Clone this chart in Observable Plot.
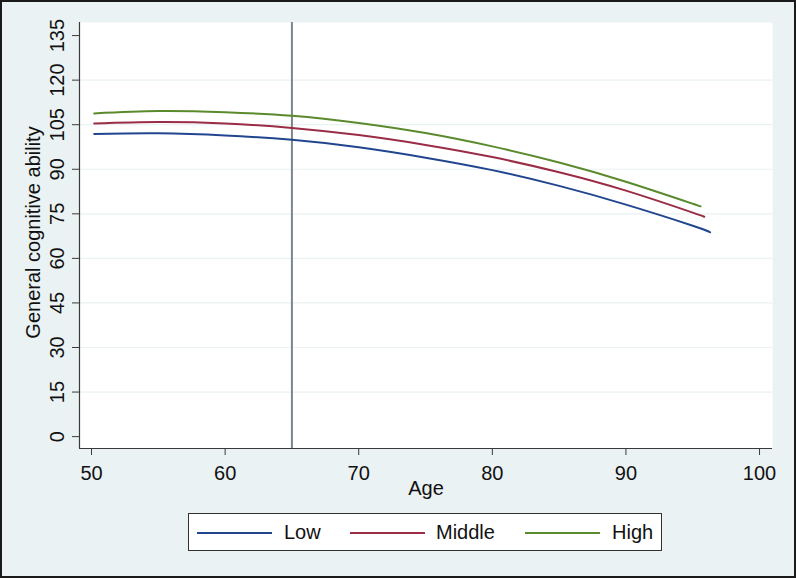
<!DOCTYPE html>
<html>
<head>
<meta charset="utf-8">
<script src="https://cdn.jsdelivr.net/npm/d3@7"></script>
<script src="https://cdn.jsdelivr.net/npm/@observablehq/plot@0.6"></script>
<style>
  html, body { margin: 0; padding: 0; background: #ffffff; }
  #wrap { position: relative; width: 796px; height: 578px; box-sizing: border-box; }
  #frame { position: absolute; left: 0; top: 0; width: 796px; height: 578px; box-sizing: border-box; border: 2px solid #1a1a1a; pointer-events: none; }
  #legend { position: absolute; left: 188px; top: 513px; width: 474px; height: 38px; box-sizing: border-box;
            background: #ffffff; border: 1px solid #333; font-family: "Liberation Sans", Arial, sans-serif; font-size: 20px; color: #111; }
  .sw { position: absolute; top: 18px; height: 2px; width: 75px; }
  .lb { position: absolute; top: 7px; line-height: 22px; }
</style>
</head>
<body>
<div id="wrap"><div id="chart"></div><div id="legend"></div><div id="frame"></div></div>
<script>
// ---- data ----
const groups = ["Low", "Middle", "High"];
const colors = ["#21468f", "#9a2c46", "#5a8a2c"];

const ageLow    = [50.2, 55, 60, 65, 70, 75, 80, 85, 90, 95, 96.3];
const valLow    = [101.9, 102.1, 101.4, 99.9, 97.4, 93.9, 89.7, 84.4, 78.1, 71.0, 68.8];

const ageMiddle = [50.2, 55, 60, 65, 70, 75, 80, 85, 90, 95, 95.8];
const valMiddle = [105.4, 105.9, 105.4, 103.9, 101.5, 98.2, 94.1, 89.0, 82.8, 75.4, 74.1];

const ageHigh   = [50.2, 55, 60, 65, 70, 75, 80, 85, 90, 95, 95.2];
const valHigh   = [108.8, 109.6, 109.2, 108.0, 105.6, 102.2, 97.7, 92.3, 85.8, 78.4, 78.1];

const xTicks = [50, 60, 70, 80, 90, 100];
const yTicks = [0, 15, 30, 45, 60, 75, 90, 105, 120, 135];
const gridTicks = [15, 30, 45, 60, 75, 90, 105, 120];
const cutoffAge = [65];

const xDomain = [49.1, 100.97];
const yDomain = [-4.0, 139.4];

const xLabel = "Age";
const yLabel = "General cognitive ability";

// ---- build table ----
const rows = [];
[[ageLow, valLow], [ageMiddle, valMiddle], [ageHigh, valHigh]].forEach(([ages, vals], gi) => {
  ages.forEach((a, i) => rows.push({group: groups[gi], age: a, value: vals[i]}));
});

const font = "'Liberation Sans', Arial, sans-serif";

const chart = Plot.plot({
  width: 796,
  height: 578,
  marginLeft: 79,
  marginRight: 24,
  marginTop: 22,
  marginBottom: 130,
  style: {background: "#eaf2f3", fontFamily: font, fontSize: "20px", color: "#111"},
  x: {domain: xDomain},
  y: {domain: yDomain},
  color: {domain: groups, range: colors},
  marks: [
    Plot.frame({fill: "white", stroke: "none"}),
    Plot.ruleY(gridTicks, {stroke: "#eaf2f3", strokeWidth: 1.2}),
    Plot.ruleX(cutoffAge, {stroke: "#7b878c", strokeWidth: 2}),
    Plot.line(rows, {x: "age", y: "value", z: "group", stroke: "group", strokeWidth: 2, curve: "natural"}),
    Plot.ruleX([xDomain[0]], {stroke: "#3a3a3a", strokeWidth: 1.2}),
    Plot.ruleY([yDomain[0]], {stroke: "#3a3a3a", strokeWidth: 1.2}),
    Plot.axisX({ticks: xTicks, tickSize: 7, tickPadding: 10, fontSize: 20, label: null, stroke: "#3a3a3a"}),
    Plot.axisY({ticks: yTicks, tickSize: 7, tickPadding: 9, tickRotate: -90, fontSize: 20, label: null, stroke: "#3a3a3a"}),
    Plot.text([xLabel], {frameAnchor: "bottom", dy: 46, fontSize: 20, fill: "#111"}),
    Plot.text([yLabel], {frameAnchor: "left", textAnchor: "middle", dx: -46, dy: -3, rotate: -90, fontSize: 20, fill: "#111"})
  ]
});
document.getElementById("chart").appendChild(chart);

// ---- legend ----
const leg = document.getElementById("legend");
const swX = [8, 161, 336];
const lbX = [95, 247, 423];
groups.forEach((g, i) => {
  const s = document.createElement("div");
  s.className = "sw"; s.style.left = swX[i] + "px"; s.style.background = colors[i];
  leg.appendChild(s);
  const t = document.createElement("div");
  t.className = "lb"; t.style.left = lbX[i] + "px"; t.textContent = g;
  leg.appendChild(t);
});
</script>
</body>
</html>
